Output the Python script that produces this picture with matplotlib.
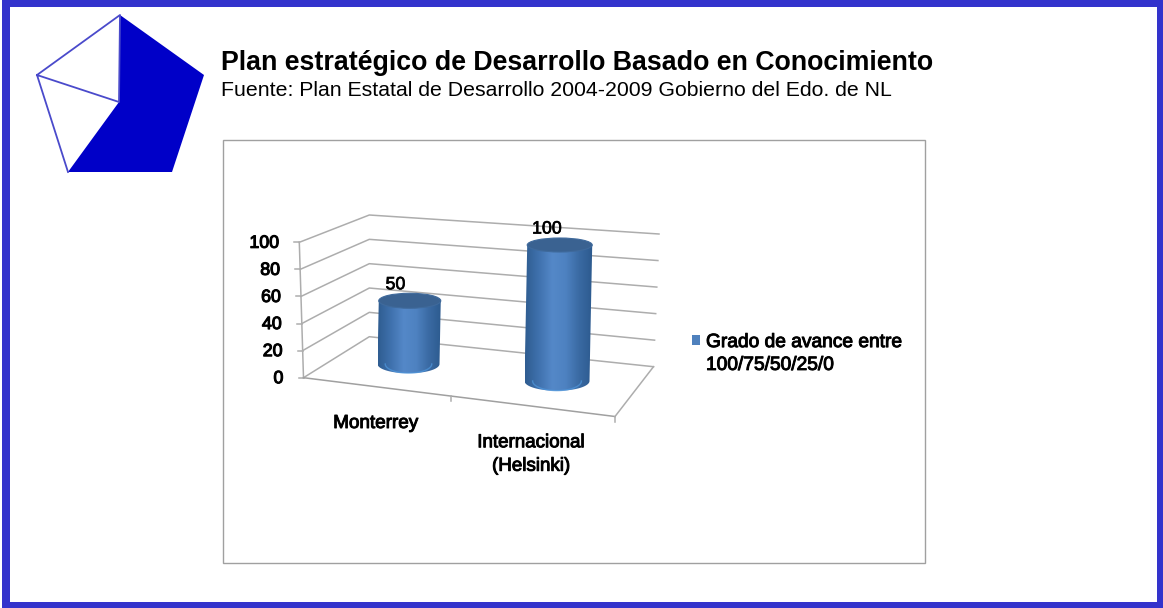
import numpy as np
import matplotlib
matplotlib.use("Agg")
import matplotlib.pyplot as plt
import matplotlib.patheffects as pe
from matplotlib.patches import Polygon, Rectangle, Ellipse

# =========================================
# DATA
# =========================================
categories = ["Monterrey", "Internacional\n(Helsinki)"]
values = [50, 100]
y_ticks = [0, 20, 40, 60, 80, 100]
legend_label = "Grado de avance entre\n100/75/50/25/0"
title = "Plan estratégico de Desarrollo Basado en Conocimiento"
subtitle = "Fuente: Plan Estatal de Desarrollo 2004-2009 Gobierno del Edo. de NL"

# =========================================
# LAYOUT (pixels of the 1163x608 picture)
# =========================================
FRONT_LEFT = ((303.5, 377.7), (299.3, 242.3))   # (value 0, value 100)
BACK_LEFT = ((369.3, 336.7), (369.3, 215.0))
BACK_RIGHT = ((653.5, 366.7), (659.0, 234.0))
FRONT_RIGHT = (615.0, 416.5)

# base centre, radius x, bottom radius y, top radius y, pixels per value unit
cylinders = [
    ((408.5, 364.0), 31.0, 9.3, 7.5, 1.265),
    ((557.0, 381.0), 32.5, 9.8, 7.0, 1.360),
]

plt.rcParams["font.family"] = ["Liberation Sans", "DejaVu Sans"]

fig = plt.figure(figsize=(11.63, 6.08), dpi=100)
ax = fig.add_axes([0, 0, 1, 1])
ax.set_xlim(0, 1163)
ax.set_ylim(608, 0)
ax.axis("off")


def wall_point(corner, value):
    low, high = corner
    t = value / 100
    return (low[0] + (high[0] - low[0]) * t, low[1] + (high[1] - low[1]) * t)


def fake_bold(width=0.5):
    return [pe.withStroke(linewidth=width, foreground="black")]


# =========================================
# FRAME AND LOGO
# =========================================
border = "#3333cc"
ax.add_patch(Rectangle((2, 0), 1161, 6.5, color=border, lw=0))
ax.add_patch(Rectangle((2, 0), 8, 608, color=border, lw=0))
ax.add_patch(Rectangle((1156.5, 0), 6.5, 608, color=border, lw=0))
ax.add_patch(Rectangle((2, 601.5), 1161, 6.5, color=border, lw=0))

ax.add_patch(Polygon([(120, 15), (204, 75), (172, 172), (68, 172), (119, 102)],
                     closed=True, color="#0000c8", lw=0))
ax.plot([68, 37, 120, 119, 37], [172, 75, 15, 102, 75], color="#4a4acb", lw=1.3)

ax.text(221, 63.5, title, fontsize=19.3, fontweight="bold", va="center", ha="left")
ax.text(221, 90.5, subtitle, fontsize=15.33, va="center", ha="left")

ax.add_patch(Rectangle((222.5, 140), 702.5, 423, fill=False, ec="#a0a0a0", lw=1))

# =========================================
# 3D WALLS AND GRID
# =========================================
grid = "#adadad"
for v in y_ticks:
    p0 = wall_point(FRONT_LEFT, v)
    p1 = wall_point(BACK_LEFT, v)
    p2 = wall_point(BACK_RIGHT, v)
    ax.plot([p0[0], p1[0], p2[0]], [p0[1], p1[1], p2[1]], color=grid, lw=1.1, zorder=1)
    ax.plot([p0[0] - 5, p0[0]], [p0[1], p0[1]], color=grid, lw=1.1, zorder=1)
    ax.text(p0[0] - 20, p0[1] + 1, str(v), fontsize=12.8,
            ha="right", va="center", path_effects=fake_bold(0.8))

p_fl0 = FRONT_LEFT[0]
p_fl1 = FRONT_LEFT[1]
p_br0 = BACK_RIGHT[0]
ax.plot([p_fl0[0], p_fl1[0]], [p_fl0[1], p_fl1[1]], color=grid, lw=1.1, zorder=1)
ax.plot([p_fl0[0], FRONT_RIGHT[0]], [p_fl0[1], FRONT_RIGHT[1]], color="#a0a0a0", lw=1.1, zorder=1)
ax.plot([FRONT_RIGHT[0], p_br0[0]], [FRONT_RIGHT[1], p_br0[1]], color=grid, lw=1.1, zorder=1)
# category ticks on the front floor edge
for t in [0.473, 1.0]:
    tx = p_fl0[0] + (FRONT_RIGHT[0] - p_fl0[0]) * t
    ty = p_fl0[1] + (FRONT_RIGHT[1] - p_fl0[1]) * t
    ax.plot([tx, tx], [ty, ty + 5], color=grid, lw=1.1, zorder=1)

# =========================================
# CYLINDERS
# =========================================
side = matplotlib.colors.LinearSegmentedColormap.from_list(
    "side", ["#2f5d91", "#3f71ad", "#5488c8", "#4e82c1", "#3a6aa3", "#2c5a8e"])
label_offsets = [(-13, -16), (-10, -16)]
for (base, rx, ry, ry_top, scale), val, off in zip(cylinders, values, label_offsets):
    bx, by = base
    top_y = by - val * scale
    lean = 0.02 * val * scale   # the bars lean a little in perspective
    theta = np.linspace(0, np.pi, 60)
    xs = np.concatenate([[bx - rx + lean, bx - rx], bx - rx * np.cos(theta), [bx + rx + lean]])
    ys = np.concatenate([[top_y, by], by + ry * np.sin(theta), [top_y]])
    body = Polygon(np.column_stack([xs, ys]), closed=True, fc="none", ec="none", zorder=3)
    ax.add_patch(body)
    im = ax.imshow(np.linspace(0, 1, 128).reshape(1, -1), cmap=side, aspect="auto",
                   extent=[bx - rx, bx + rx + lean, by + ry, top_y], zorder=3)
    im.set_clip_path(body)
    # brighter lower rim
    ax.plot(bx - rx * 0.75 * np.cos(theta), by + ry * np.sin(theta) * 0.98,
            color="#4f97dc", lw=1.0, alpha=0.7, zorder=4)
    ax.add_patch(Ellipse((bx + lean, top_y), 2 * rx, 2 * ry_top, fc="#3a6291", ec="#3f6a9c", lw=0.8, zorder=5))
    ax.text(bx + off[0], top_y + off[1], str(val), fontsize=12.8, ha="center", va="center",
            zorder=6, path_effects=fake_bold(0.5))

ax.set_xlim(0, 1163)
ax.set_ylim(608, 0)

# =========================================
# LABELS AND LEGEND
# =========================================
ax.text(375.5, 423.5, categories[0], fontsize=13.6, ha="center", va="center", path_effects=fake_bold(0.7))
ax.text(531, 454.5, categories[1], fontsize=13.5, ha="center", va="center", linespacing=1.5,
        path_effects=fake_bold(0.7))

ax.add_patch(Rectangle((692, 335), 7.5, 10, color="#4f81bd", lw=0))
ax.text(706, 354, legend_label, fontsize=13.8, ha="left", va="center", linespacing=1.45,
        path_effects=fake_bold(0.7))

fig.savefig("out.png", dpi=100)
